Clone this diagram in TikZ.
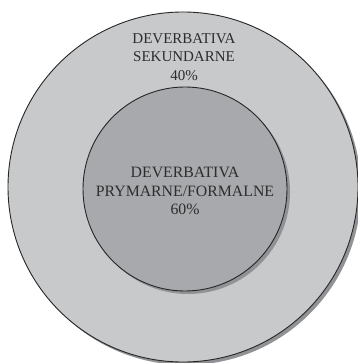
\documentclass[tikz,border=0pt]{standalone}
\usepackage{fontspec}
\setmainfont{Liberation Serif}
\definecolor{outerfill}{RGB}{200,201,203}
\definecolor{innerfill}{RGB}{168,169,172}
\definecolor{shadowgray}{RGB}{145,146,150}
\definecolor{textgray}{RGB}{45,45,45}
\tikzset{
  ring/.style={draw=black!85, line width=0.9pt},
  label/.style={align=center, text=textgray, inner sep=0pt}
}
\begin{document}
\begin{tikzpicture}[x=1pt,y=-1pt]
\useasboundingbox (0,0) rectangle (357,363);
\fill[white] (0,0) rectangle (357,363);
% outer circle with shadow
\fill[shadowgray] (186,190) circle (175);
\fill[outerfill] (183,187) circle (175);
\draw[ring] (183,187) circle (175);
% inner circle with shadow
\fill[shadowgray] (188,192) circle (102);
\fill[innerfill] (185,189) circle (102);
\draw[ring] (185,189) circle (102);
\node[label, font=\fontsize{15}{18.5}\selectfont] (sek) at (184,57) {DEVERBATIVA\\SEKUNDARNE\\40\%};
\node[label, font=\fontsize{15.8}{18.5}\selectfont] (pry) at (185,191) {DEVERBATIVA\\PRYMARNE/FORMALNE\\60\%};
\end{tikzpicture}
\end{document}
